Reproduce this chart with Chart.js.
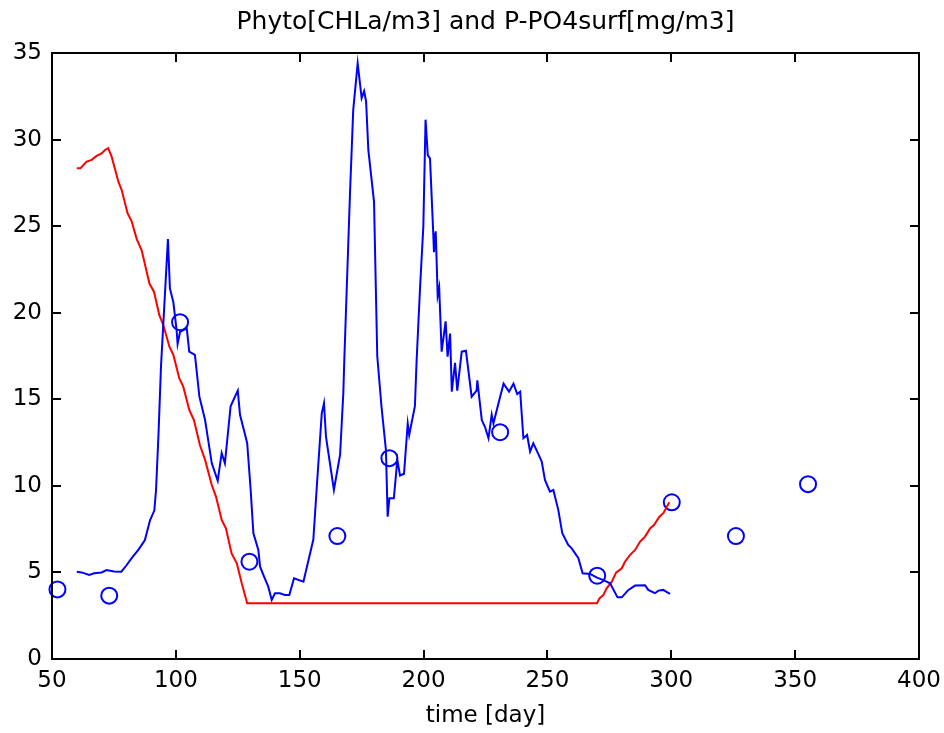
<!DOCTYPE html>
<html>
<head>
<meta charset="utf-8">
<script src="https://cdn.jsdelivr.net/npm/chart.js@4.4.0/dist/chart.umd.min.js"></script>
<style>
  html, body { margin: 0; padding: 0; background: #ffffff; }
  #wrap { width: 944px; height: 733px; }
</style>
</head>
<body>
<div id="wrap"><canvas id="c" width="944" height="733"></canvas></div>
<script>
// ---- Data ----
const titleText = 'Phyto[CHLa/m3] and P-PO4surf[mg/m3]';
const xTitle = 'time [day]';
const xTicks = [50, 100, 150, 200, 250, 300, 350, 400];
const yTicks = [0, 5, 10, 15, 20, 25, 30, 35];

// Model phytoplankton (blue line)
const phytoDays = [60, 62, 65, 67, 70, 72, 75, 78, 80, 82, 85, 87.5, 89.6, 91.3, 92, 93, 94, 96.8, 97.6, 99,
  100.3, 100.7, 101.7, 104.4, 105.4, 107.7, 109.5, 111.8, 114.5, 116.9, 118.5, 119.8, 122.1, 125, 125.9, 128.8,
  130.2, 131.3, 133.3, 134, 135.6, 137.3, 138.7, 140, 142, 144, 145.8, 147.7, 151.5, 155.5, 156.9, 158.9, 159.8,
  160.6, 163.8, 166.3, 167.6, 168, 170.3, 171.6, 173.4, 175, 176, 176.8, 177.7, 180, 181.3, 183, 184.8, 185.5,
  186.2, 188, 189.4, 190.5, 192.1, 193.6, 194.2, 196.5, 197.2, 198.6, 199.9, 200.8, 201.7, 202.6, 203.9, 204.2,
  204.9, 205.7, 206.3, 207.3, 208.9, 209.7, 210.7, 211.4, 212.7, 213.6, 215.4, 217.1, 219.4, 221.4, 221.7, 223.5,
  224.8, 226.2, 227.5, 228.2, 230.9, 232.3, 234.5, 236.3, 237.8, 239, 240.3, 241.8, 243, 244.3, 246.3, 247.7,
  249, 251, 252.4, 254.4, 256, 258.4, 259.8, 262.5, 264.2, 267.2, 270, 272.6, 275.3, 278.3, 280, 282.7, 285.4,
  289.4, 290.7, 293.4, 294.8, 296.8, 297.9, 299.5];
const phytoVals = [5.04, 5.0, 4.85, 4.95, 5.0, 5.14, 5.05, 5.04, 5.4, 5.8, 6.33, 6.87, 8.03, 8.57, 9.76, 13.0, 16.9, 24.25, 21.4, 20.6,
  19.0, 18.2, 18.9, 19.1, 17.75, 17.56, 15.15, 13.8, 11.3, 10.3, 11.9, 11.3, 14.6, 15.5, 14.1, 12.46,
  9.76, 7.26, 6.3, 5.33, 4.76, 4.18, 3.41, 3.8, 3.8, 3.7, 3.7, 4.66, 4.47, 6.9, 9.95, 14.19, 14.77,
  12.84, 9.76, 11.8, 15.35, 17.27, 26.9, 31.7, 34.4, 32.4, 32.8, 32.2, 29.4, 26.4, 17.5, 14.6, 12.07, 8.22,
  9.28, 9.28, 11.5, 10.6, 10.7, 13.6, 12.94, 14.6, 17.27, 21.5, 24.97, 31.15, 29.1, 28.9, 24.6, 23.5,
  24.7, 21.0, 21.45, 17.75, 19.5, 17.46, 18.8, 15.44, 17.1, 15.5, 17.75, 17.8, 15.15, 15.5, 16.1, 13.8,
  13.4, 12.75, 14.1, 13.6, 15.15, 15.9, 15.44, 15.9, 15.3, 15.44, 12.75, 12.94, 11.98, 12.46, 11.85, 11.4,
  10.34, 9.66, 9.76, 8.6, 7.26, 6.59, 6.39, 5.82, 4.95, 4.91, 4.7, 4.56, 4.37, 3.56, 3.56, 3.99, 4.24,
  4.26, 3.99, 3.8, 3.95, 3.99, 3.89, 3.76];

// Model surface phosphate (red line)
const po4Days = [60, 61.5, 64, 66, 68, 70, 71.4, 72.7, 74.1, 76.8, 78.1, 80.5, 82.2, 84.2, 86.2, 89.3, 91.2, 93.3,
  94.9, 97.4, 99, 101.4, 103, 105.4, 107.3, 109.7, 111.8, 114.5, 116.2, 118.5, 120.2, 122.5, 124.6, 126.6, 128.8,
  270, 271, 272.6, 273.9, 276, 277.7, 280, 281.3, 283.3, 285.4, 287.4, 289.4, 291.5, 293, 295.2, 296.8, 299.2];
const po4Vals = [28.35, 28.35, 28.73, 28.83, 29.06, 29.2, 29.4, 29.5, 29.0, 27.57, 27.1, 25.75, 25.26, 24.25, 23.6, 21.7, 21.2, 19.87,
  19.3, 18.04, 17.56, 16.2, 15.73, 14.38, 13.8, 12.36, 11.5, 10.05, 9.38, 8.03, 7.55, 6.1, 5.53, 4.37, 3.22,
  3.22, 3.5, 3.7, 4.08, 4.47, 4.99, 5.24, 5.62, 6.0, 6.3, 6.78, 7.07, 7.55, 7.74, 8.22, 8.42, 9.05];

// Observations (blue circles)
const obsDays = [52.2, 73.1, 101.7, 129.7, 165.2, 186.2, 230.9, 270.1, 300.2, 326.1, 355.2];
const obsVals = [4.02, 3.66, 19.45, 5.62, 7.1, 11.6, 13.1, 4.81, 9.05, 7.1, 10.1];

const toXY = (xs, ys) => xs.map((x, i) => ({ x: x, y: ys[i] }));

const FONT = "'DejaVu Sans', 'Liberation Sans', Arial, sans-serif";

const framePlugin = {
  id: 'frame',
  afterDraw(chart) {
    const ctx = chart.ctx;
    const a = chart.chartArea;
    const xs = chart.scales.x, ys = chart.scales.y;
    ctx.save();
    ctx.strokeStyle = '#000000';
    ctx.lineWidth = 2;
    ctx.beginPath();
    xs.ticks.forEach(t => {
      const px = Math.round(xs.getPixelForValue(t.value));
      ctx.moveTo(px, a.bottom); ctx.lineTo(px, a.bottom - 9);
      ctx.moveTo(px, a.top); ctx.lineTo(px, a.top + 9);
    });
    ys.ticks.forEach(t => {
      const py = Math.round(ys.getPixelForValue(t.value));
      ctx.moveTo(a.left, py); ctx.lineTo(a.left + 9, py);
      ctx.moveTo(a.right, py); ctx.lineTo(a.right - 9, py);
    });
    ctx.stroke();
    ctx.strokeRect(a.left, a.top, a.right - a.left, a.bottom - a.top);
    ctx.restore();
  }
};

new Chart(document.getElementById('c'), {
  type: 'scatter',
  data: {
    datasets: [
      {
        label: 'Phyto',
        data: toXY(phytoDays, phytoVals),
        showLine: true,
        borderColor: '#0000ff',
        borderWidth: 2,
        pointRadius: 0,
        tension: 0,
        fill: false
      },
      {
        label: 'P-PO4surf',
        data: toXY(po4Days, po4Vals),
        showLine: true,
        borderColor: '#ff0000',
        borderWidth: 2,
        pointRadius: 0,
        tension: 0,
        fill: false
      },
      {
        label: 'Observations',
        data: toXY(obsDays, obsVals),
        showLine: false,
        borderColor: '#0000ff',
        backgroundColor: 'rgba(0,0,0,0)',
        borderWidth: 2,
        pointRadius: 8,
        pointStyle: 'circle',
        clip: false
      }
    ]
  },
  options: {
    responsive: false,
    animation: false,
    devicePixelRatio: 1,
    layout: { padding: { left: 0, right: 0, top: 0, bottom: 0 } },
    plugins: {
      legend: { display: false },
      tooltip: { enabled: false },
      title: {
        display: true,
        text: titleText,
        fullSize: false,
        color: '#000000',
        font: { family: FONT, size: 25, weight: 'normal' },
        padding: { top: 7, bottom: 16 }
      }
    },
    scales: {
      x: {
        type: 'linear',
        min: 50, max: 400,
        afterBuildTicks: s => { s.ticks = xTicks.map(v => ({ value: v })); },
        afterFit: s => { s.height = 74; s.paddingRight = 25; s.paddingLeft = 0; },
        grid: { display: false, drawTicks: false },
        border: { display: false },
        ticks: { color: '#000000', font: { family: FONT, size: 23 }, padding: 8, maxRotation: 0 },
        title: { display: true, text: xTitle, color: '#000000', font: { family: FONT, size: 23 }, padding: { top: 0, bottom: 3 } }
      },
      y: {
        type: 'linear',
        min: 0, max: 35,
        afterBuildTicks: s => { s.ticks = yTicks.map(v => ({ value: v })); },
        afterFit: s => { s.width = 52; s.paddingTop = 0; s.paddingBottom = 0; },
        grid: { display: false, drawTicks: false },
        border: { display: false },
        ticks: { color: '#000000', font: { family: FONT, size: 23 }, padding: 10 }
      }
    }
  },
  plugins: [framePlugin]
});
</script>
</body>
</html>
